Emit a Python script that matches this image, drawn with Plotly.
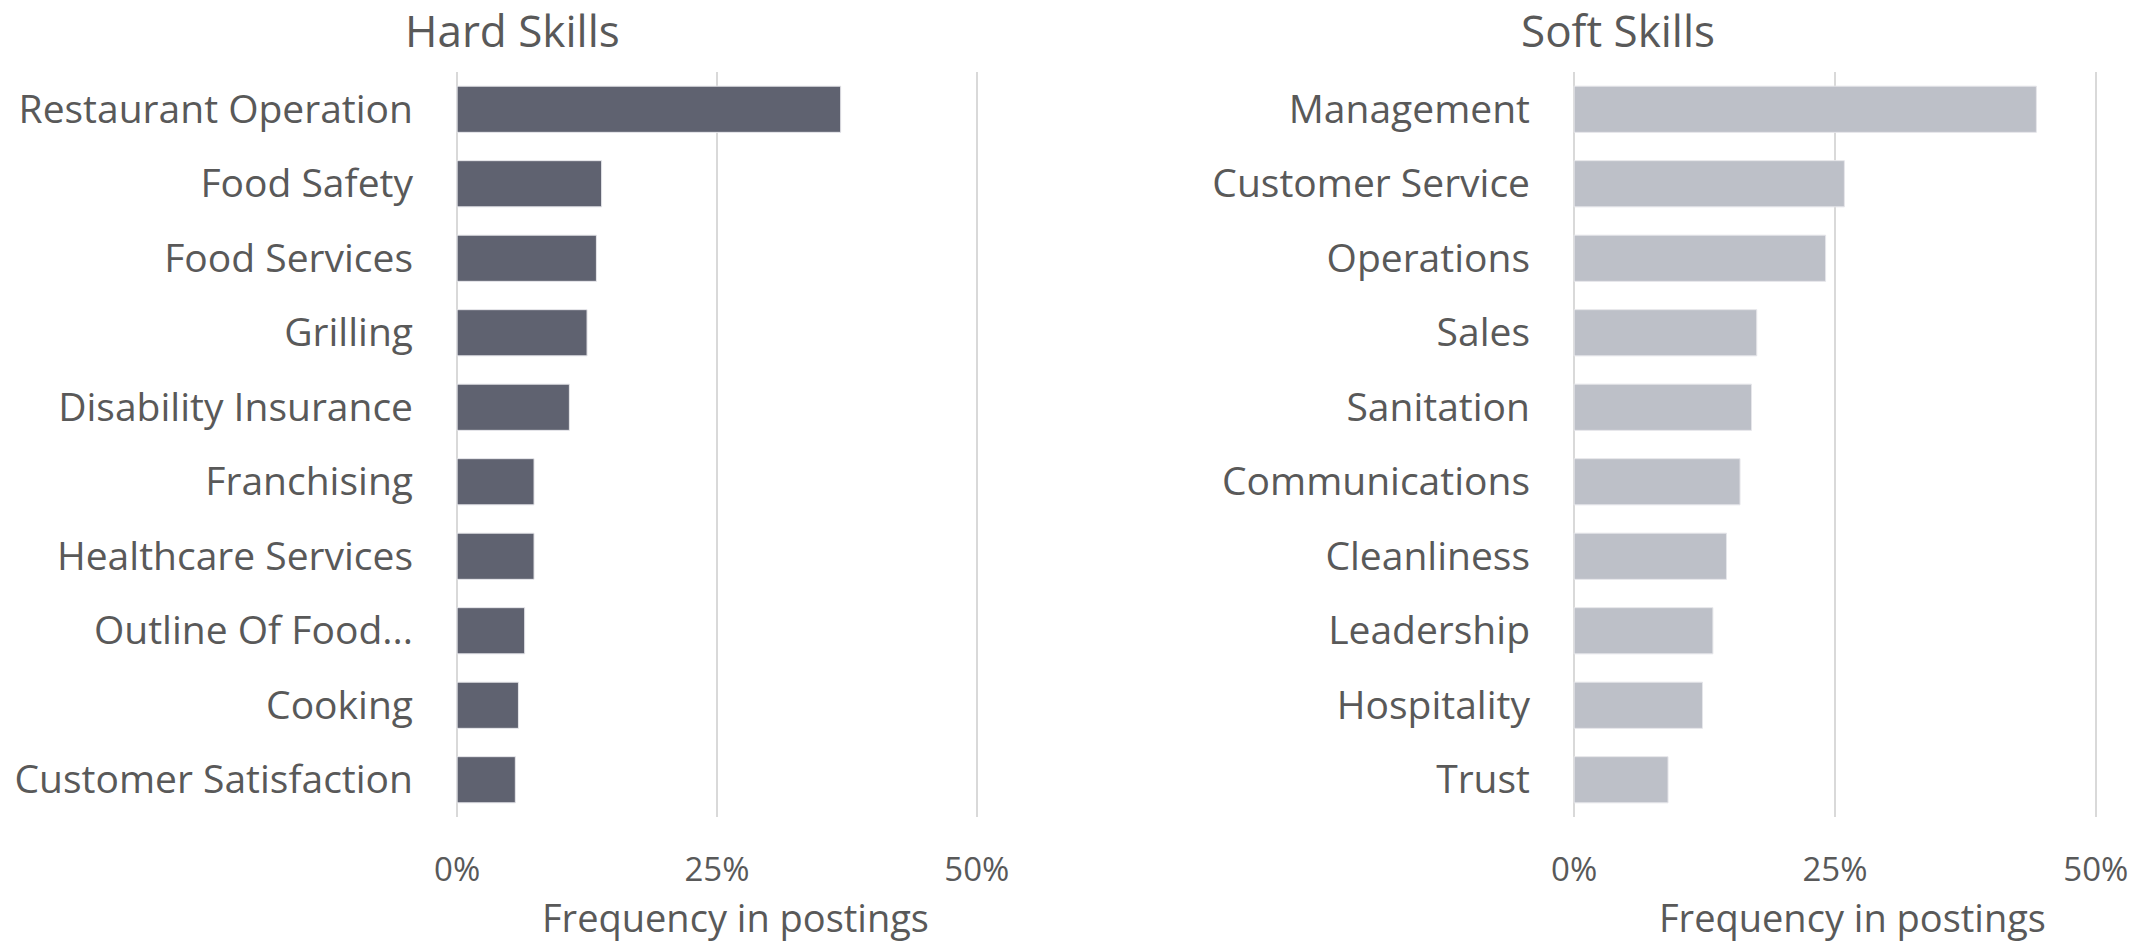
import plotly.graph_objects as go

# hard skills, share of postings
hard_skills = ["Restaurant Operation", "Food Safety", "Food Services", "Grilling",
               "Disability Insurance", "Franchising", "Healthcare Services",
               "Outline Of Food...", "Cooking", "Customer Satisfaction"]
hard_freq = [0.369, 0.139, 0.134, 0.125, 0.108, 0.074, 0.074, 0.065, 0.059, 0.056]

# soft skills
soft_skills = ["Management", "Customer Service", "Operations", "Sales", "Sanitation",
               "Communications", "Cleanliness", "Leadership", "Hospitality", "Trust"]
soft_freq = [0.443, 0.259, 0.241, 0.175, 0.170, 0.159, 0.146, 0.133, 0.123, 0.090]

tick_vals = [0, 0.25, 0.5]
tick_text = ["0%", "25%", "50%"]

W, H = 2139, 944
FONT = "Open Sans"
TXT = "#595959"
GRID = "#d9d9d9"


def px_x(v):
    return v / W


def px_y(v):
    return 1 - v / H


fig = go.Figure()
fig.add_trace(go.Bar(
    x=hard_freq, y=hard_skills, orientation="h",
    marker=dict(color="#5f6270", line=dict(color="#e6e6ea", width=1)),
    xaxis="x", yaxis="y", showlegend=False,
))
fig.add_trace(go.Bar(
    x=soft_freq, y=soft_skills, orientation="h",
    marker=dict(color="#bdc0c8", line=dict(color="#e6e6ea", width=1)),
    xaxis="x2", yaxis="y2", showlegend=False,
))

xcommon = dict(range=[-0.003, 0.503], tickvals=tick_vals, ticktext=tick_text,
               showgrid=True, gridcolor=GRID, gridwidth=1.5, zeroline=False,
               showline=False, ticks="", ticklabelstandoff=30,
               tickfont=dict(family=FONT, size=33, color=TXT), automargin=False)
ycommon = dict(autorange="reversed", showgrid=False, zeroline=False, showline=False,
               ticks="", ticklabelstandoff=40,
               tickfont=dict(family=FONT, size=39, color=TXT), automargin=False,
               domain=[px_y(817), px_y(72)])

fig.update_layout(
    width=W, height=H,
    margin=dict(l=0, r=0, t=0, b=0),
    plot_bgcolor="white", paper_bgcolor="white",
    bargap=0.38,
    xaxis=dict(domain=[px_x(454), px_x(980)], anchor="y", **xcommon),
    yaxis=dict(anchor="x", **ycommon),
    xaxis2=dict(domain=[px_x(1571), px_x(2099)], anchor="y2", **xcommon),
    yaxis2=dict(anchor="x2", **ycommon),
)

titles = [("Hard Skills", 512), ("Soft Skills", 1618)]
for text, cx in titles:
    fig.add_annotation(text=text, x=px_x(cx), y=px_y(30), xref="paper", yref="paper",
                       xanchor="center", yanchor="middle", showarrow=False,
                       font=dict(family=FONT, size=44, color=TXT))

for cx in (735, 1852):
    fig.add_annotation(text="Frequency in postings", x=px_x(cx), y=px_y(917),
                       xref="paper", yref="paper", xanchor="center", yanchor="middle",
                       showarrow=False, font=dict(family=FONT, size=38, color=TXT))

# drop the default body margin so the figure fills the window exactly
fig.write_html("out.html", config={"displayModeBar": False},
               post_script="document.body.style.margin='0';")
